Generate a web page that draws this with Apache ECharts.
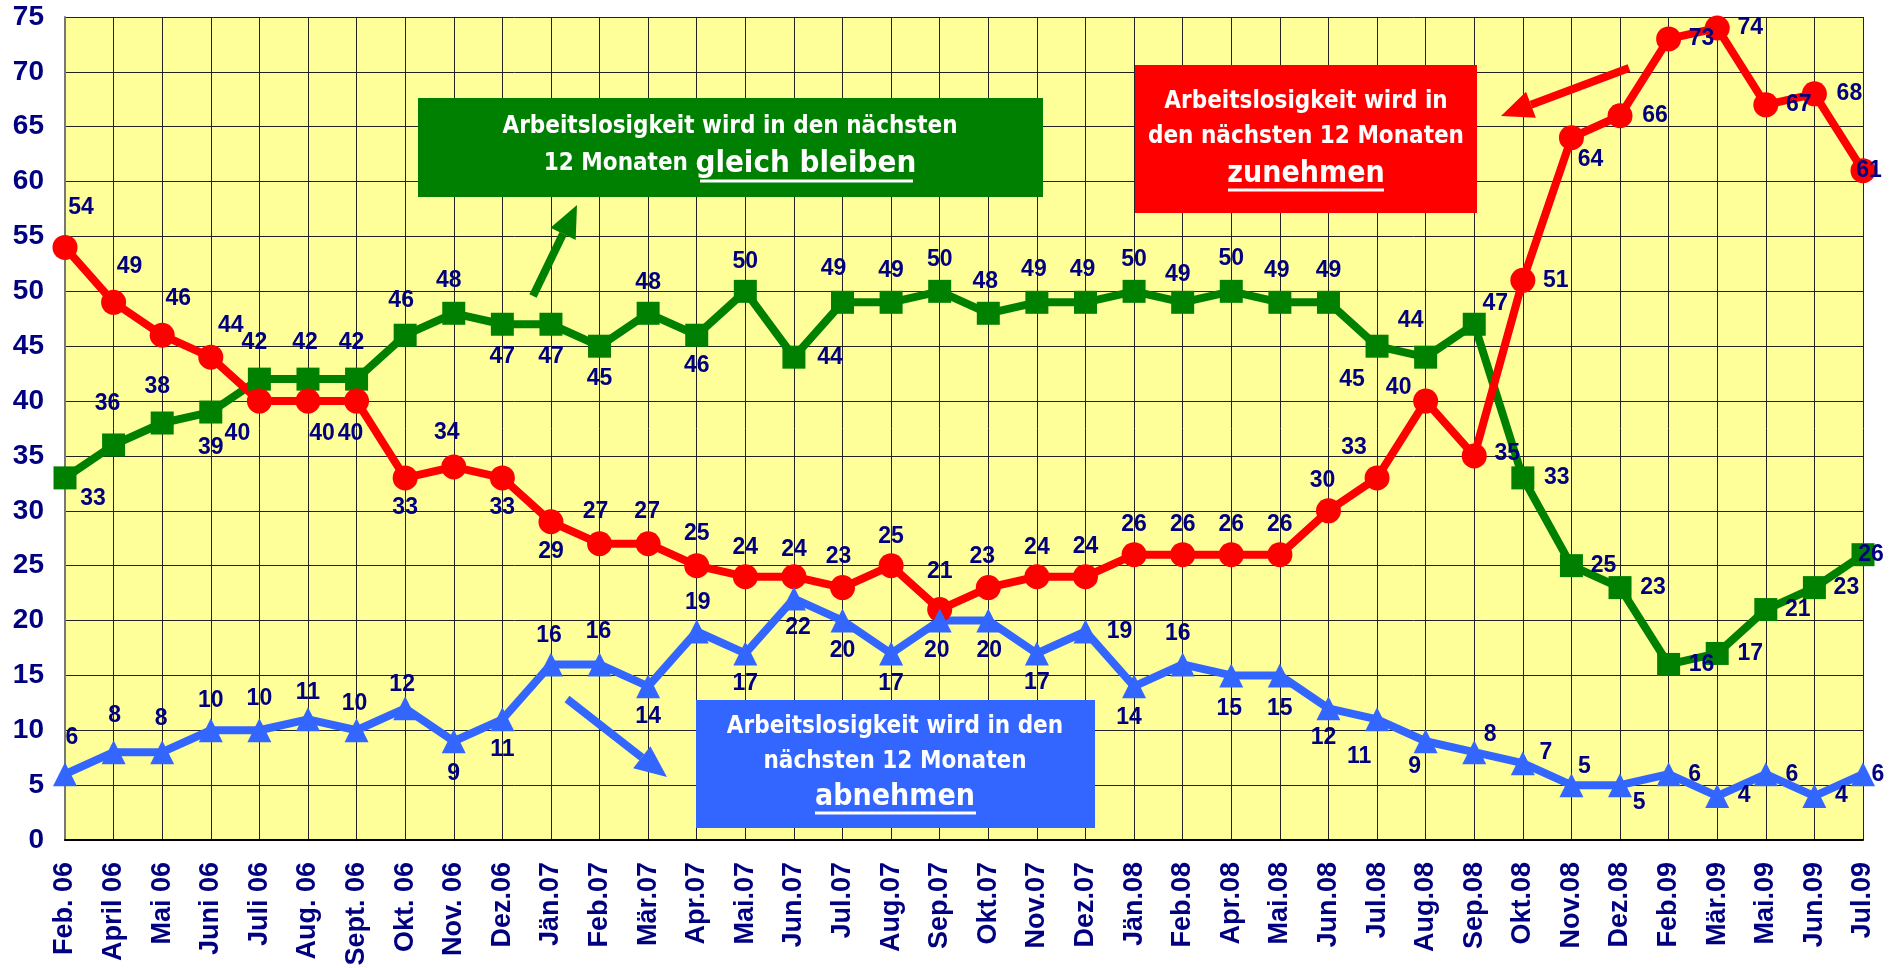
<!DOCTYPE html>
<html>
<head>
<meta charset="utf-8">
<script src="https://cdn.jsdelivr.net/npm/echarts@6/dist/echarts.min.js"></script>
<style>
  html, body { margin: 0; padding: 0; background: #fff; }
  #main { width: 1901px; height: 968px; }
</style>
</head>
<body>
<div id="main"></div>
<script>
// Monate
const categories = ['Feb. 06', 'April 06', 'Mai 06', 'Juni 06', 'Juli 06', 'Aug. 06', 'Sept. 06', 'Okt. 06',
  'Nov. 06', 'Dez.06', 'Jän.07', 'Feb.07', 'Mär.07', 'Apr.07', 'Mai.07', 'Jun.07', 'Jul.07', 'Aug.07',
  'Sep.07', 'Okt.07', 'Nov.07', 'Dez.07', 'Jän.08', 'Feb.08', 'Apr.08', 'Mai.08', 'Jun.08', 'Jul.08',
  'Aug.08', 'Sep.08', 'Okt.08', 'Nov.08', 'Dez.08', 'Feb.09', 'Mär.09', 'Mai.09', 'Jun.09', 'Jul.09'];

// Werte in %
const zunehmen = [54, 49, 46, 44, 40, 40, 40, 33, 34, 33, 29, 27, 27, 25, 24, 24, 23, 25, 21, 23, 24, 24,
  26, 26, 26, 26, 30, 33, 40, 35, 51, 64, 66, 73, 74, 67, 68, 61];
const gleichBleiben = [33, 36, 38, 39, 42, 42, 42, 46, 48, 47, 47, 45, 48, 46, 50, 44, 49, 49, 50, 48, 49, 49,
  50, 49, 50, 49, 49, 45, 44, 47, 33, 25, 23, 16, 17, 21, 23, 26];
const abnehmen = [6, 8, 8, 10, 10, 11, 10, 12, 9, 11, 16, 16, 14, 19, 17, 22, 20, 17, 20, 20, 17, 19,
  14, 16, 15, 15, 12, 11, 9, 8, 7, 5, 5, 6, 4, 6, 4, 6];

const yTicks = { min: 0, max: 75, interval: 5 };

// Verschiebung der Datenbeschriftungen (Pixel, relativ zum Punkt)
const offRot = [[16,-40],[16,-36],[16,-37],[20,-32],[-22,33],[14,33],[-6,33],[0,30],[-7,-34],[0,30],[0,30],
  [-4,-32],[-1,-32],[0,-32],[0,-29],[0,-27],[-4,-31],[0,-29],[0,-38],[-6,-31],[0,-29],[0,-30],[0,-30],
  [0,-30],[0,-30],[0,-30],[-6,-30],[-23,-30],[-27,-13],[33,-2],[33,0],[19,22],[35,0],[33,0],[33,0],
  [33,0],[35,0],[6,0]];
const offGruen = [[28,21],[-6,-41],[-5,-36],[0,36],[-5,-36],[-3,-36],[-5,-36],[-4,-35],[-5,-33],[0,32],
  [0,32],[0,32],[0,-31],[0,30],[0,-30],[36,0],[-9,-34],[0,-32],[0,-32],[-3,-32],[-3,-33],[-3,-33],
  [0,-32],[-5,-28],[0,-33],[-3,-32],[0,-32],[-25,33],[-15,-37],[21,-21],[34,0],[32,0],[33,0],[33,0],
  [33,0],[32,0],[32,0],[8,0]];
const offBlau = [[7,-37],[1,-37],[-1,-34],[0,-30],[0,-32],[0,-27],[-2,-27],[-3,-24],[0,32],[0,30],
  [-2,-29],[-1,-33],[0,30],[1,-29],[0,30],[4,29],[0,30],[0,30],[-3,30],[1,30],[0,29],[34,0],[-5,31],
  [-5,-31],[-2,33],[0,33],[-5,29],[-18,37],[-11,25],[16,-18],[23,-11],[13,-18],[19,18],[26,0],[27,0],
  [26,0],[27,0],[15,0]];

const NAVY = '#000080';
const arial = 'Liberation Sans, Arial, sans-serif';
const narrow = 'Liberation Sans Narrow, DejaVu Sans Condensed, Liberation Sans, sans-serif';

function withLabels(values, offsets) {
  return values.map((v, i) => ({ value: v, label: { offset: offsets[i] } }));
}

function makeSeries(name, values, offsets, color, symbol, size) {
  return {
    name: name,
    type: 'line',
    data: withLabels(values, offsets),
    symbol: symbol,
    symbolSize: size,
    clip: false,
    lineStyle: { color: color, width: 8 },
    itemStyle: { color: color },
    label: {
      show: true,
      position: 'inside',
      color: NAVY,
      fontSize: 23,
      fontWeight: 'bold',
      fontFamily: arial
    },
    emphasis: { disabled: true },
    animation: false
  };
}

// Pfeil aus Linie und Spitze
function arrow(x1, y1, x2, y2, color) {
  const a = Math.atan2(y2 - y1, x2 - x1);
  const len = 32, half = 14;
  const bx = x2 - len * Math.cos(a), by = y2 - len * Math.sin(a);
  const px = -Math.sin(a) * half, py = Math.cos(a) * half;
  return [
    { type: 'line', shape: { x1: x1, y1: y1, x2: bx, y2: by }, style: { stroke: color, lineWidth: 8 }, z: 50 },
    { type: 'polygon', shape: { points: [[x2, y2], [bx + px, by + py], [bx - px, by - py]] }, style: { fill: color }, z: 50 }
  ];
}

function box(x, y, w, h, color) {
  return { type: 'rect', shape: { x: x, y: y, width: w, height: h }, style: { fill: color }, z: 40 };
}

function txt(text, x, y, size, rich) {
  const t = {
    type: 'text', z: 60,
    style: {
      text: text, x: x, y: y, fill: '#fff', fontSize: size, fontWeight: 'bold',
      fontFamily: narrow, align: 'center', verticalAlign: 'middle'
    }
  };
  if (rich) t.style.rich = rich;
  return t;
}

function underline(x1, x2, y) {
  return { type: 'line', shape: { x1: x1, y1: y, x2: x2, y2: y }, style: { stroke: '#fff', lineWidth: 3 }, z: 60 };
}

const chart = echarts.init(document.getElementById('main'));

const option = {
  backgroundColor: '#ffffff',
  animation: false,
  grid: {
    left: 65, right: 38, top: 17, bottom: 128,
    show: true, backgroundColor: '#FFFF99', borderWidth: 0,
    outerBoundsMode: 'none'
  },
  xAxis: {
    type: 'category',
    data: categories,
    boundaryGap: false,
    axisLine: { show: true, lineStyle: { color: '#000', width: 2 } },
    axisTick: { show: false },
    splitLine: { show: true, interval: 0, lineStyle: { color: '#222', width: 1 } },
    axisLabel: {
      interval: 0, rotate: 90, margin: 22,
      color: NAVY, fontSize: 27, fontWeight: 'bold',
      fontFamily: arial
    }
  },
  yAxis: {
    type: 'value',
    min: yTicks.min, max: yTicks.max, interval: yTicks.interval,
    axisLine: { show: true, lineStyle: { color: '#777', width: 2 } },
    axisTick: { show: false },
    splitLine: { show: true, lineStyle: { color: '#222', width: 1 } },
    axisLabel: {
      margin: 21, color: NAVY, fontSize: 28, fontWeight: 'bold',
      fontFamily: arial
    }
  },
  series: [
    makeSeries('gleich bleiben', gleichBleiben, offGruen, '#008000', 'rect', 23),
    makeSeries('zunehmen', zunehmen, offRot, '#FF0000', 'circle', 25),
    makeSeries('abnehmen', abnehmen, offBlau, '#3366FF', 'triangle', 24)
  ],
  graphic: [
    // grün: gleich bleiben
    box(418, 98, 625, 99, '#008000'),
    txt('Arbeitslosigkeit wird in den nächsten', 730, 127, 24),
    txt('{a|12 Monaten }{b|gleich bleiben}', 730, 164, 24, {
      a: { fontSize: 24, fontWeight: 'bold', fontFamily: narrow, fill: '#fff', color: '#fff' },
      b: { fontSize: 31, fontWeight: 'bold', fontFamily: narrow, fill: '#fff', color: '#fff' }
    }),
    underline(700, 913, 181),
    ...arrow(533, 296, 577, 205, '#008000'),

    // rot: zunehmen
    box(1135, 65, 342, 148, '#FF0000'),
    txt('Arbeitslosigkeit wird in', 1306, 102, 24),
    txt('den nächsten 12 Monaten', 1306, 137, 24),
    txt('zunehmen', 1306, 174, 30),
    underline(1228, 1384, 190),
    ...arrow(1629, 68, 1501, 116, '#FF0000'),

    // blau: abnehmen
    box(696, 700, 399, 128, '#3366FF'),
    txt('Arbeitslosigkeit wird in den', 895, 727, 24),
    txt('nächsten 12 Monaten', 895, 762, 24),
    txt('abnehmen', 895, 797, 30),
    underline(815, 976, 813),
    ...arrow(567, 699, 667, 777, '#3366FF')
  ]
};

chart.setOption(option);
window.addEventListener('resize', () => chart.resize());
</script>
</body>
</html>
